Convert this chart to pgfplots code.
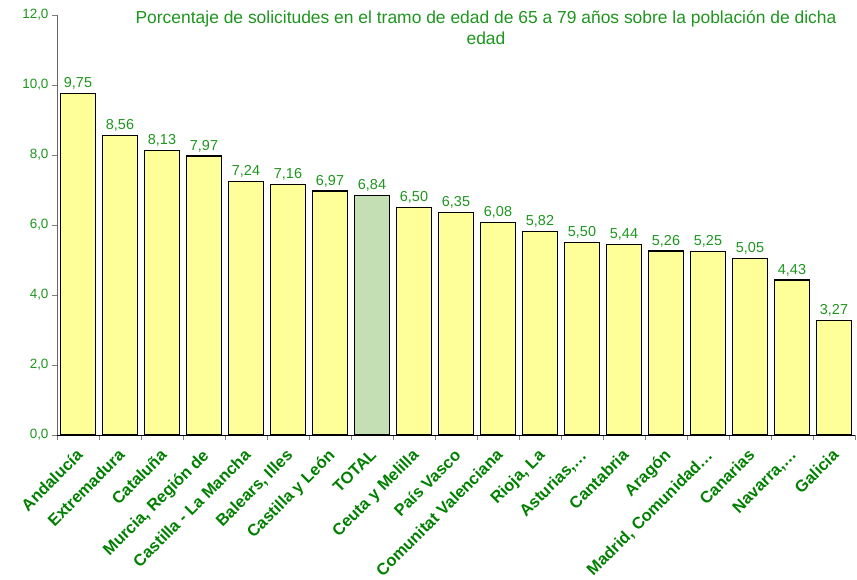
\documentclass[border=0pt]{standalone}
\usepackage{pgfplots}
\pgfplotsset{compat=1.18}
\usepackage{fontspec}
\setmainfont{Liberation Sans}
\definecolor{barY}{HTML}{FFFF99}
\definecolor{barG}{HTML}{C4DFB4}
\definecolor{txtG}{HTML}{008000}
\definecolor{numG}{HTML}{1E961E}
\pgfplotsset{/pgf/number format/assume math mode=true}

\begin{document}
\begin{tikzpicture}
\useasboundingbox (-57bp,-145bp) rectangle (800bp,435bp);
\begin{axis}[
  at={(0,0)}, anchor=south west,
  scale only axis, width=798bp, height=420bp,
  ybar, bar width=35bp, bar shift=0pt,
  xmin=-0.5, xmax=18.5, ymin=0, ymax=12,
  axis x line*=bottom, axis y line*=left,
  y axis line style={draw=gray!80!black, line width=1pt},
  x axis line style={black, line width=0.8pt},
  tick align=outside, major tick length=5bp,
  ytick={0,2,...,12},
  yticklabel style={/pgf/number format/fixed, /pgf/number format/fixed zerofill,
    /pgf/number format/precision=1, /pgf/number format/use comma,
    font=\fontsize{13.5}{15}\selectfont, text=numG},
  xtick={-0.5,0.5,...,18.5}, xticklabels={},
  extra x ticks={0,...,18},
  extra x tick labels={Andalucía,Extremadura,Cataluña,{Murcia, Región de},Castilla - La Mancha,{Balears, Illes},Castilla y León,TOTAL,Ceuta y Melilla,País Vasco,Comunitat Valenciana,{Rioja, La},{Asturias,…},Cantabria,Aragón,{Madrid, Comunidad…},Canarias,{Navarra,…},Galicia},
  extra x tick style={major tick length=0pt,
    tick label style={rotate=45, anchor=north east, inner sep=1bp, xshift=-10bp, yshift=-6bp,
    font=\bfseries\fontsize{16.5}{18}\selectfont, text=txtG}},
  nodes near coords={\pgfmathprintnumber[fixed,fixed zerofill,precision=2,use comma]{\pgfplotspointmeta}},
  every node near coord/.append style={font=\fontsize{14.5}{16}\selectfont, text=numG, yshift=0bp},
]
\addplot[draw=black, line width=1.4pt, fill=barY] coordinates {
  (0,9.75) (1,8.56) (2,8.13) (3,7.97) (4,7.24) (5,7.16) (6,6.97)
  (8,6.50) (9,6.35) (10,6.08) (11,5.82) (12,5.50) (13,5.44) (14,5.26)
  (15,5.25) (16,5.05) (17,4.43) (18,3.27)};
\addplot[draw=black, line width=1.4pt, fill=barG] coordinates {(7,6.84)};
\end{axis}
\node[anchor=north, align=center, text=numG, font=\fontsize{17.5}{21}\selectfont] at (429bp,428bp)
  {Porcentaje de solicitudes en el tramo de edad de 65 a 79 años sobre la población de dicha\\edad};
\end{tikzpicture}
\end{document}
